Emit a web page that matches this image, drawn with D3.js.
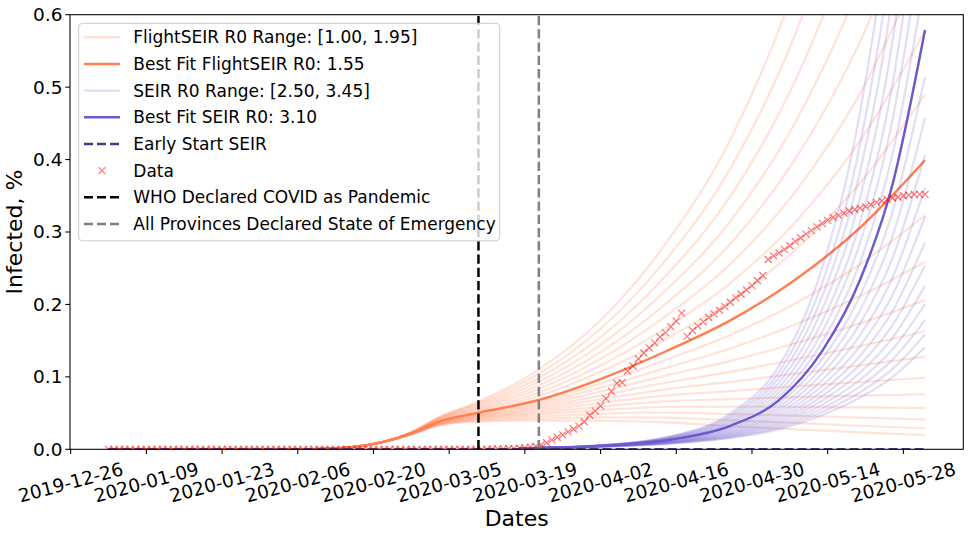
<!DOCTYPE html>
<html>
<head>
<meta charset="utf-8">
<script src="https://cdn.jsdelivr.net/npm/d3@7"></script>
<style>
  body { margin: 0; background: #fff; }
  text { font-family: "DejaVu Sans", sans-serif; fill: #000; }
</style>
</head>
<body>
<div id="chart"></div>
<script>
// ---- data ----
const xTickDates = ["2019-12-26", "2020-01-09", "2020-01-23", "2020-02-06", "2020-02-20", "2020-03-05",
  "2020-03-19", "2020-04-02", "2020-04-16", "2020-04-30", "2020-05-14", "2020-05-28"];
const yTicks = [0, 0.1, 0.2, 0.3, 0.4, 0.5, 0.6];

const whoDate = "2020-03-10T10:00:00Z";
const emergencyDate = "2020-03-21T14:00:00Z";

// daily observed infected %, starting 2020-01-02
const dataStart = "2020-01-02";
const infectedData = [
  0, 0, 0, 0, 0, 0, 0, 0, 0, 0,
  0, 0, 0, 0, 0, 0, 0, 0, 0, 0,
  0, 0, 0, 0, 0, 0, 0, 0, 0, 0,
  0, 0, 0, 0, 0, 0, 0, 0, 0, 0,
  0, 0, 0, 0, 0, 0, 0, 0, 0, 0,
  0, 0, 0, 0, 0, 0, 0, 0, 0, 0,
  0, 0, 0, 0, 0, 0, 0, 0, 0, 0,
  0.0002, 0.0003, 0.0004,
  0.0005, 0.0008, 0.001, 0.0015, 0.002, 0.003, 0.004, 0.006, 0.009, 0.013,
  0.0166, 0.020, 0.024, 0.028, 0.032, 0.038, 0.047, 0.053, 0.060, 0.070,
  0.080, 0.091, 0.092, 0.108, 0.115, 0.125, 0.133, 0.140, 0.147, 0.155,
  0.161, 0.169, 0.177, 0.188, 0.156, 0.164, 0.170, 0.176, 0.182, 0.187,
  0.192, 0.197, 0.203, 0.209, 0.214, 0.220, 0.226, 0.233, 0.240, 0.262,
  0.267, 0.271, 0.276, 0.281, 0.287, 0.292, 0.297, 0.302, 0.307, 0.312,
  0.316, 0.320, 0.323, 0.326, 0.329, 0.331, 0.333, 0.335, 0.338, 0.341,
  0.343, 0.345, 0.347, 0.348, 0.350, 0.351, 0.352, 0.352, 0.352
];

// FlightSEIR runs, R0 1.00 .. 1.95
const flightDays = ["2020-01-02", "2020-02-09", "2020-02-16", "2020-02-22", "2020-02-27", "2020-03-03",
  "2020-03-10", "2020-03-21", "2020-04-02", "2020-04-14", "2020-04-26", "2020-05-08", "2020-05-20", "2020-06-01"];
const flightR0 = [1.00, 1.05, 1.10, 1.15, 1.20, 1.25, 1.30, 1.35, 1.40, 1.45,
  1.50, 1.55, 1.60, 1.65, 1.70, 1.75, 1.80, 1.85, 1.90, 1.95];
const flightRuns = [
  [0, 0.0003, 0.003, 0.0105, 0.0207, 0.0327, 0.0381, 0.0395, 0.0394, 0.0371, 0.0320, 0.0276, 0.0234, 0.0197],
  [0, 0.0003, 0.003, 0.0105, 0.0209, 0.0333, 0.0395, 0.0422, 0.0442, 0.0437, 0.0400, 0.0364, 0.0325, 0.029],
  [0, 0.0003, 0.003, 0.0105, 0.0210, 0.0339, 0.0407, 0.0449, 0.0490, 0.0508, 0.0486, 0.0466, 0.0437, 0.041],
  [0, 0.0003, 0.003, 0.0105, 0.0212, 0.0345, 0.0420, 0.0476, 0.0541, 0.0584, 0.0588, 0.0587, 0.0579, 0.057],
  [0, 0.0003, 0.003, 0.0105, 0.0213, 0.0350, 0.0431, 0.0500, 0.0590, 0.0662, 0.0692, 0.0721, 0.0741, 0.076],
  [0, 0.0003, 0.003, 0.0105, 0.0214, 0.0354, 0.0441, 0.0524, 0.0639, 0.0742, 0.0804, 0.0869, 0.0929, 0.099],
  [0, 0.0003, 0.003, 0.0105, 0.0215, 0.0359, 0.0451, 0.0549, 0.0690, 0.0828, 0.0931, 0.1044, 0.1158, 0.128],
  [0, 0.0003, 0.003, 0.0105, 0.0216, 0.0363, 0.0461, 0.0572, 0.0742, 0.0919, 0.1069, 0.1240, 0.1424, 0.163],
  [0, 0.0003, 0.003, 0.0105, 0.0217, 0.0368, 0.0471, 0.0597, 0.0796, 0.1017, 0.1221, 0.1464, 0.1739, 0.206],
  [0, 0.0003, 0.003, 0.0105, 0.0218, 0.0372, 0.0481, 0.0621, 0.0852, 0.1120, 0.1392, 0.1722, 0.2116, 0.259],
  [0, 0.0003, 0.003, 0.0105, 0.0219, 0.0376, 0.0491, 0.0646, 0.0910, 0.1233, 0.1579, 0.2014, 0.2555, 0.323],
  [0, 0.0003, 0.003, 0.0105, 0.0220, 0.0380, 0.0500, 0.0670, 0.0970, 0.1350, 0.1780, 0.2340, 0.3060, 0.399],
  [0, 0.0003, 0.003, 0.0105, 0.0223, 0.0390, 0.0521, 0.0723, 0.1070, 0.1520, 0.2049, 0.2751, 0.3676, 0.490],
  [0, 0.0003, 0.003, 0.0105, 0.0225, 0.0397, 0.0539, 0.0768, 0.1157, 0.1673, 0.2293, 0.3134, 0.4260, 0.578],
  [0, 0.0003, 0.003, 0.0105, 0.0227, 0.0405, 0.0557, 0.0815, 0.1248, 0.1836, 0.2559, 0.3555, 0.4914, 0.678],
  [0, 0.0003, 0.003, 0.0105, 0.0229, 0.0412, 0.0574, 0.0861, 0.1341, 0.2005, 0.2839, 0.4006, 0.5628, 0.788],
  [0, 0.0003, 0.003, 0.0105, 0.0231, 0.0420, 0.0592, 0.0911, 0.1442, 0.2188, 0.3148, 0.4513, 0.6441, 0.918],
  [0, 0.0003, 0.003, 0.0105, 0.0233, 0.0427, 0.0610, 0.0963, 0.1549, 0.2390, 0.3492, 0.5089, 0.7378, 1.067],
  [0, 0.0003, 0.003, 0.0105, 0.0235, 0.0435, 0.0629, 0.1018, 0.1664, 0.2609, 0.3875, 0.5733, 0.8443, 1.241],
  [0, 0.0003, 0.003, 0.0105, 0.0237, 0.0442, 0.0647, 0.1073, 0.1781, 0.2835, 0.4274, 0.6419, 0.9597, 1.432]
];
const bestFlightR0 = 1.55;
const bestFlight = [0, 0.0003, 0.003, 0.0105, 0.022, 0.038, 0.050, 0.067, 0.097, 0.135, 0.178, 0.234, 0.306, 0.399];

// SEIR runs, R0 2.50 .. 3.45
const seirDays = ["2020-03-18", "2020-04-01", "2020-04-15", "2020-04-26", "2020-05-05",
  "2020-05-13", "2020-05-20", "2020-05-26", "2020-06-01"];
const seirR0 = [2.50, 2.55, 2.60, 2.65, 2.70, 2.75, 2.80, 2.85, 2.90, 2.95,
  3.00, 3.05, 3.10, 3.15, 3.20, 3.25, 3.30, 3.35, 3.40, 3.45];
const seirRuns = [
  [0.00143, 0.00337, 0.00794, 0.01556, 0.0275, 0.0473, 0.0714, 0.0997, 0.1408],
  [0.00143, 0.00345, 0.00830, 0.01654, 0.0297, 0.0518, 0.0788, 0.1111, 0.1585],
  [0.00143, 0.00352, 0.00867, 0.01758, 0.0320, 0.0565, 0.0869, 0.1238, 0.1784],
  [0.00143, 0.00360, 0.00905, 0.01869, 0.0345, 0.0617, 0.0960, 0.1381, 0.2005],
  [0.00143, 0.00368, 0.00946, 0.01988, 0.0372, 0.0674, 0.1060, 0.1538, 0.2256],
  [0.00143, 0.00376, 0.00988, 0.02113, 0.0401, 0.0736, 0.1170, 0.1713, 0.2539],
  [0.00143, 0.00385, 0.01033, 0.02246, 0.0433, 0.0803, 0.1291, 0.1910, 0.2857],
  [0.00143, 0.00393, 0.01079, 0.02387, 0.0466, 0.0877, 0.1427, 0.2129, 0.3211],
  [0.00143, 0.00402, 0.01128, 0.02540, 0.0503, 0.0958, 0.1575, 0.2371, 0.3613],
  [0.00143, 0.00411, 0.01178, 0.02700, 0.0543, 0.1045, 0.1738, 0.2644, 0.4066],
  [0.00143, 0.00420, 0.01231, 0.02870, 0.0584, 0.1141, 0.1920, 0.2945, 0.4575],
  [0.00143, 0.00429, 0.01287, 0.03050, 0.0631, 0.1246, 0.2119, 0.3282, 0.5143],
  [0.00143, 0.00439, 0.01345, 0.03245, 0.0680, 0.1360, 0.2340, 0.3660, 0.579],
  [0.00143, 0.00448, 0.01405, 0.03446, 0.0733, 0.1486, 0.2581, 0.4073, 0.6505],
  [0.00143, 0.00459, 0.01470, 0.03670, 0.0792, 0.1624, 0.2855, 0.4551, 0.7334],
  [0.00143, 0.00468, 0.01533, 0.03890, 0.0851, 0.1767, 0.3136, 0.5045, 0.8212],
  [0.00143, 0.00479, 0.01602, 0.04140, 0.0918, 0.1933, 0.3470, 0.5637, 0.9259],
  [0.00143, 0.00490, 0.01676, 0.04410, 0.0991, 0.2112, 0.3839, 0.6292, 1.044],
  [0.00143, 0.00500, 0.01748, 0.04670, 0.1066, 0.2297, 0.4217, 0.6982, 1.168],
  [0.00143, 0.00511, 0.01828, 0.04970, 0.1151, 0.2514, 0.4665, 0.7794, 1.3165]
];
const bestSeirR0 = 3.10;
const bestSeir = [0.00143, 0.00439, 0.01345, 0.03245, 0.068, 0.136, 0.234, 0.366, 0.579];

// early-start SEIR stays on the floor
const earlyDays = ["2020-01-02", "2020-03-05", "2020-06-01"];
const earlySeir = [0, 0, 0];

// ---- chart ----
const width = 969, height = 536;
const plot = { left: 70, right: 963.3, top: 14.7, bottom: 449.3 };

const coral = "#ff7f50", slate = "#6a5acd", darkSlate = "#483d8b";

let x = d3.scaleUtc()
  .domain([new Date(Date.UTC(2019, 11, 25, 21)), new Date(Date.UTC(2020, 5, 8, 2))])
  .range([plot.left, plot.right]);

let y = d3.scaleLinear()
  .domain([0, 0.6])
  .range([plot.bottom, plot.top]);

let svg = d3.select("#chart")
  .append("svg")
  .attr("width", width)
  .attr("height", height);

svg.append("defs").append("clipPath").attr("id", "plotclip")
  .append("rect")
  .attr("x", plot.left)
  .attr("y", plot.top)
  .attr("width", plot.right - plot.left)
  .attr("height", plot.bottom - plot.top);

let g = svg.append("g").attr("clip-path", "url(#plotclip)");

let line = d3.line()
  .x((d) => x(d.date))
  .y((d) => y(d.v))
  .curve(d3.curveMonotoneX);

const toPoints = (days, vals) => vals.map((v, i) => ({ date: new Date(days[i] + "T00:00:00Z"), v: v }));

// FlightSEIR range
g.append("g")
  .selectAll("path")
  .data(flightRuns)
  .join("path")
  .attr("fill", "none")
  .attr("stroke", coral)
  .attr("stroke-opacity", 0.22)
  .attr("stroke-width", 2.2)
  .attr("d", (d) => line(toPoints(flightDays, d)));

g.append("path")
  .attr("fill", "none")
  .attr("stroke", coral)
  .attr("stroke-width", 2.4)
  .attr("d", line(toPoints(flightDays, bestFlight)));

// SEIR range
g.append("g")
  .selectAll("path")
  .data(seirRuns)
  .join("path")
  .attr("fill", "none")
  .attr("stroke", slate)
  .attr("stroke-opacity", 0.2)
  .attr("stroke-width", 2.2)
  .attr("d", (d) => line(toPoints(seirDays, d)));

g.append("path")
  .attr("fill", "none")
  .attr("stroke", slate)
  .attr("stroke-width", 2.4)
  .attr("d", line(toPoints(seirDays, bestSeir)));

g.append("path")
  .attr("fill", "none")
  .attr("stroke", darkSlate)
  .attr("stroke-width", 2.4)
  .attr("stroke-dasharray", "9,4")
  .attr("d", line(toPoints(earlyDays, earlySeir)));

// observed data
let start = new Date(dataStart + "T00:00:00Z");
const crossPath = "M-3.5,-3.5L3.5,3.5M-3.5,3.5L3.5,-3.5";
g.append("g")
  .selectAll("path")
  .data(infectedData)
  .join("path")
  .attr("d", crossPath)
  .attr("transform", (d, i) => `translate(${x(d3.utcDay.offset(start, i))},${y(d)})`)
  .attr("fill", "none")
  .attr("stroke", "red")
  .attr("stroke-opacity", 0.55)
  .attr("stroke-width", 1.2);

// event lines
const events = [
  { date: whoDate, color: "#000" },
  { date: emergencyDate, color: "#808080" }
];
g.append("g")
  .selectAll("line")
  .data(events)
  .join("line")
  .attr("x1", (d) => x(new Date(d.date)))
  .attr("x2", (d) => x(new Date(d.date)))
  .attr("y1", y(0))
  .attr("y2", y(0.6))
  .attr("stroke", (d) => d.color)
  .attr("stroke-width", 2.5)
  .attr("stroke-dasharray", "9.25,4");

// frame
svg.append("rect")
  .attr("x", plot.left)
  .attr("y", plot.top)
  .attr("width", plot.right - plot.left)
  .attr("height", plot.bottom - plot.top)
  .attr("fill", "none")
  .attr("stroke", "#000")
  .attr("stroke-width", 1.07);

// axes
let xAxis = svg.append("g").attr("transform", `translate(0,${plot.bottom})`);
let xTicks = xTickDates.map((d) => new Date(d + "T00:00:00Z"));
xAxis.selectAll("line")
  .data(xTicks)
  .join("line")
  .attr("x1", (d) => x(d)).attr("x2", (d) => x(d))
  .attr("y1", 0).attr("y2", 4.7)
  .attr("stroke", "#000").attr("stroke-width", 1.07);
xAxis.selectAll("text")
  .data(xTicks)
  .join("text")
  .attr("transform", (d) => `translate(${x(d)},33) rotate(-15)`)
  .attr("text-anchor", "middle")
  .attr("dy", "0.35em")
  .attr("font-size", 18.5)
  .text(d3.utcFormat("%Y-%m-%d"));

let yAxis = svg.append("g").attr("transform", `translate(${plot.left},0)`);
yAxis.selectAll("line")
  .data(yTicks)
  .join("line")
  .attr("x1", -4.7).attr("x2", 0)
  .attr("y1", (d) => y(d)).attr("y2", (d) => y(d))
  .attr("stroke", "#000").attr("stroke-width", 1.07);
yAxis.selectAll("text")
  .data(yTicks)
  .join("text")
  .attr("x", -7.5)
  .attr("y", (d) => y(d))
  .attr("dy", "0.35em")
  .attr("text-anchor", "end")
  .attr("font-size", 18.5)
  .text(d3.format(".1f"));

svg.append("text")
  .attr("x", (plot.left + plot.right) / 2)
  .attr("y", 526)
  .attr("text-anchor", "middle")
  .attr("font-size", 22)
  .text("Dates");

svg.append("text")
  .attr("transform", `translate(22,${(plot.top + plot.bottom) / 2}) rotate(-90)`)
  .attr("text-anchor", "middle")
  .attr("font-size", 22)
  .text("Infected, %");

// legend
const f2 = d3.format(".2f");
const legendItems = [
  { label: `FlightSEIR R0 Range: [${f2(flightR0[0])}, ${f2(flightR0[flightR0.length - 1])}]`, color: coral, opacity: 0.22 },
  { label: `Best Fit FlightSEIR R0: ${f2(bestFlightR0)}`, color: coral, opacity: 1 },
  { label: `SEIR R0 Range: [${f2(seirR0[0])}, ${f2(seirR0[seirR0.length - 1])}]`, color: slate, opacity: 0.2 },
  { label: `Best Fit SEIR R0: ${f2(bestSeirR0)}`, color: slate, opacity: 1 },
  { label: "Early Start SEIR", color: darkSlate, opacity: 1, dash: "9,4" },
  { label: "Data", marker: true },
  { label: "WHO Declared COVID as Pandemic", color: "#000", opacity: 1, dash: "9,4" },
  { label: "All Provinces Declared State of Emergency", color: "#808080", opacity: 1, dash: "9,4" }
];

let legend = svg.append("g");
legend.append("rect")
  .attr("x", 78.7).attr("y", 23.3)
  .attr("width", 421).attr("height", 217.5)
  .attr("rx", 4)
  .attr("fill", "#fff").attr("fill-opacity", 0.8)
  .attr("stroke", "#ccc").attr("stroke-width", 1);

let rows = legend.selectAll("g.row")
  .data(legendItems)
  .join("g")
  .attr("class", "row")
  .attr("transform", (d, i) => `translate(0,${37.3 + i * 26.67})`);

rows.filter((d) => !d.marker)
  .append("line")
  .attr("x1", 84).attr("x2", 120)
  .attr("y1", 0).attr("y2", 0)
  .attr("stroke", (d) => d.color)
  .attr("stroke-opacity", (d) => d.opacity)
  .attr("stroke-width", 2.4)
  .attr("stroke-dasharray", (d) => d.dash || null);

rows.filter((d) => d.marker)
  .append("path")
  .attr("d", crossPath)
  .attr("transform", "translate(102,0)")
  .attr("fill", "none")
  .attr("stroke", "red")
  .attr("stroke-opacity", 0.55)
  .attr("stroke-width", 1.2);

rows.append("text")
  .attr("x", 133.3)
  .attr("dy", "0.35em")
  .attr("font-size", 17)
  .text((d) => d.label);
</script>
</body>
</html>
